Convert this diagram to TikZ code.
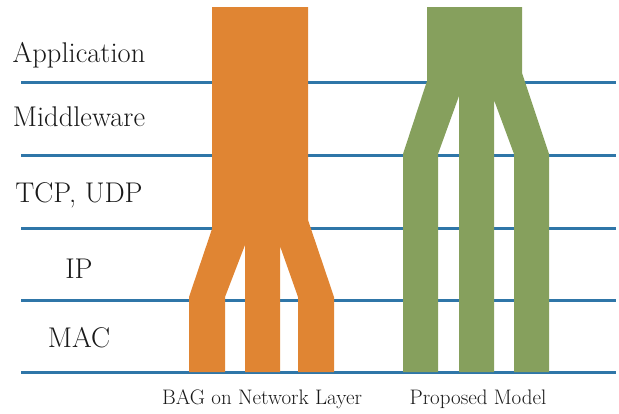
\documentclass[tikz,border=0pt]{standalone}
\usepackage{tikz}
\definecolor{layerblue}{HTML}{2F76A8}
\definecolor{layerlight}{HTML}{9CC3DE}
\definecolor{bagorange}{HTML}{E08533}
\definecolor{modelgreen}{HTML}{86A05D}
\tikzset{
	layerline/.style={line width=3pt, color=layerblue},
	layername/.style={anchor=base, font=\fontsize{28.5}{30}\selectfont, text=black!90},
	modelname/.style={anchor=base, font=\fontsize{21}{23}\selectfont, text=black!90}
}

\begin{document}
\begin{tikzpicture}[x=1pt, y=-1pt]
		%%%%% START %%%%%
		\useasboundingbox (0, 0) rectangle (619, 413);
		
		% layer boundaries
		\foreach \y in {82, 155, 228, 300, 372} {
			\draw[line width=1pt, color=layerlight] (21, \y+1.6) -- (616, \y+1.6);
			\draw[layerline] (21, \y) -- (616, \y);
		}
		
		% layer names
		\node[layername] (app) at (79, 62) {Application};
		\node[layername] (mid) at (79, 126) {Middleware};
		\node[layername] (tcp) at (79, 202) {TCP, UDP};
		\node[layername] (ip) at (79, 278) {IP};
		\node[layername] (mac) at (79, 347) {MAC};
		
		% BAG on network layer
		\fill[bagorange] (212, 7) -- (308, 7) -- (308, 220) -- (334, 297) -- (334, 372)
			-- (298, 372) -- (298, 297) -- (280, 246) -- (280, 372) -- (245, 372)
			-- (245, 245) -- (225, 297) -- (225, 372) -- (189, 372) -- (189, 297)
			-- (212, 229) -- cycle;
		
		% proposed model
		\fill[modelgreen] (427, 7) -- (522, 7) -- (522, 73) -- (549, 154) -- (549, 372)
			-- (514, 372) -- (514, 154) -- (494, 100) -- (494, 372) -- (459, 372)
			-- (459, 96) -- (438, 154) -- (438, 372) -- (403, 372) -- (403, 154)
			-- (427, 81) -- cycle;
		
		\node[modelname] (bag) at (262, 404) {BAG on Network Layer};
		\node[modelname] (prop) at (478, 404) {Proposed Model};
		
		%%%%% END %%%%%
\end{tikzpicture}
\end{document}
